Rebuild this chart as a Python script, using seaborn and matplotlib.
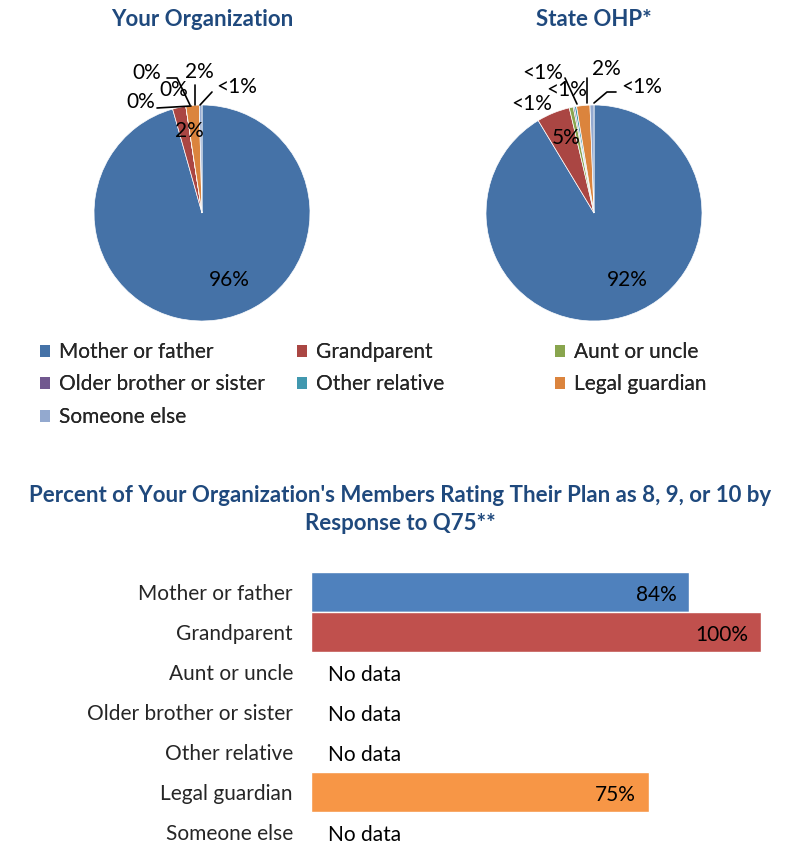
import numpy as np
import pandas as pd
import matplotlib
matplotlib.use("Agg")
import matplotlib.pyplot as plt
from matplotlib.patches import Patch
import seaborn as sns

# ---- data ----
categories = ["Mother or father", "Grandparent", "Aunt or uncle",
              "Older brother or sister", "Other relative", "Legal guardian",
              "Someone else"]
org_share = [96, 2, 0, 0, 0, 2, 0.4]
state_share = [92, 5, 0.6, 0.2, 0.3, 2, 0.6]
rating_pct = [84, 100, np.nan, np.nan, np.nan, 75, np.nan]

pie_colors = ["#4572A7", "#AA4643", "#89A54E", "#71588F", "#4198AF", "#DB843D", "#93A9CF"]
bar_colors = ["#4F81BD", "#C0504D", "#9BBB59", "#8064A2", "#4BACC6", "#F79646", "#93A9CF"]
title_color = "#1F497D"

sns.set_style("white")
plt.rcParams["font.family"] = ["Lato", "DejaVu Sans"]
FS = 15
TFS = 16

W, H = 801, 849
fig = plt.figure(figsize=(W / 100, H / 100), dpi=100)


def fig_box(x0, y0, x1, y1):
    """Pixel box (top-left origin) -> figure-fraction rect."""
    return [x0 / W, 1 - y1 / H, (x1 - x0) / W, (y1 - y0) / H]


def pct_label(v):
    if v == 0:
        return "0%"
    if v < 1:
        return "<1%"
    return f"{v:.0f}%"


def draw_pie(cx, cy, R, values, title, label_px, leaders_px):
    ax = fig.add_axes(fig_box(cx - R, cy - R, cx + R, cy + R))
    ax.pie(values, colors=pie_colors, startangle=90, counterclock=False,
           radius=1, wedgeprops=dict(edgecolor="white", linewidth=0.5))
    ax.set_xlim(-1, 1)
    ax.set_ylim(-1, 1)
    ax.set_aspect("equal")
    ax.axis("off")

    def to_data(x, y):
        return (x - cx) / R, (cy - y) / R

    for v, (lx, ly) in zip(values, label_px):
        dx, dy = to_data(lx, ly)
        ax.text(dx, dy, pct_label(v), ha="center", va="center",
                fontsize=FS, color="black", clip_on=False)
    for pts in leaders_px:
        xs, ys = zip(*[to_data(x, y) for x, y in pts])
        ax.plot(xs, ys, color="black", lw=1.2, clip_on=False)
    fig.text(cx / W, 1 - 20 / H, title, ha="center", va="center",
             fontsize=TFS, fontweight="bold", color=title_color)


draw_pie(202, 213, 108, org_share, "Your Organization",
         [(229, 280), (189, 131), (141, 102), (147, 73), (174, 90), (199, 72), (237, 87)],
         [[(157, 108), (191, 106)],
          [(167, 78), (177, 78), (190, 105)],
          [(195, 85), (195, 105)],
          [(212, 92), (200, 105)]])

draw_pie(594, 213, 108, state_share, "State OHP*",
         [(627, 280), (566, 138), (532, 104), (543, 73), (567, 90), (606, 69), (642, 87)],
         [[(565, 78), (577, 104)],
          [(587, 78), (587, 103)],
          [(616, 92), (607, 92), (594, 103)]])

# ---- legend: three columns, filled row by row ----
handles = [Patch(facecolor=c, edgecolor="none") for c in pie_colors]
col_x = [40, 297, 555]
for col in range(3):
    idx = list(range(col, len(categories), 3))
    lg = fig.legend([handles[i] for i in idx], [categories[i] for i in idx],
                    loc="upper left", bbox_to_anchor=(col_x[col] / W, 1 - 342 / H),
                    frameon=False, fontsize=FS, handlelength=0.5, handleheight=0.5,
                    handletextpad=0.4, labelspacing=0.6, borderpad=0, borderaxespad=0)
    fig.add_artist(lg)

# ---- bar chart ----
fig.text(400 / W, 1 - 495 / H,
         "Percent of Your Organization's Members Rating Their Plan as 8, 9, or 10 by",
         ha="center", va="center", fontsize=TFS, fontweight="bold", color=title_color)
fig.text(400 / W, 1 - 524 / H, "Response to Q75**",
         ha="center", va="center", fontsize=TFS, fontweight="bold", color=title_color)

df = pd.DataFrame({"category": categories, "pct": rating_pct})
df_have = df.dropna()
axb = fig.add_axes(fig_box(311, 572, 761, 852))
sns.barplot(data=df_have, y="category", x="pct", hue="category", order=categories,
            hue_order=categories, palette=dict(zip(categories, bar_colors)),
            orient="h", width=1.0, legend=False, ax=axb, saturation=1)
axb.set_xlim(0, 100)
axb.set_ylim(len(categories) - 0.5, -0.5)
axb.set_xlabel("")
axb.set_ylabel("")
axb.set_xticks([])
axb.tick_params(axis="y", length=0, pad=13, labelsize=FS)
for s in axb.spines.values():
    s.set_visible(False)

for i, v in enumerate(rating_pct):
    if np.isnan(v):
        axb.text(3.8, i + 0.08, "No data", ha="left", va="center", fontsize=FS, color="black")
    else:
        axb.text(v - 2.8, i + 0.08, f"{v:.0f}%", ha="right", va="center", fontsize=FS, color="black")

fig.savefig("out.png", dpi=100)
